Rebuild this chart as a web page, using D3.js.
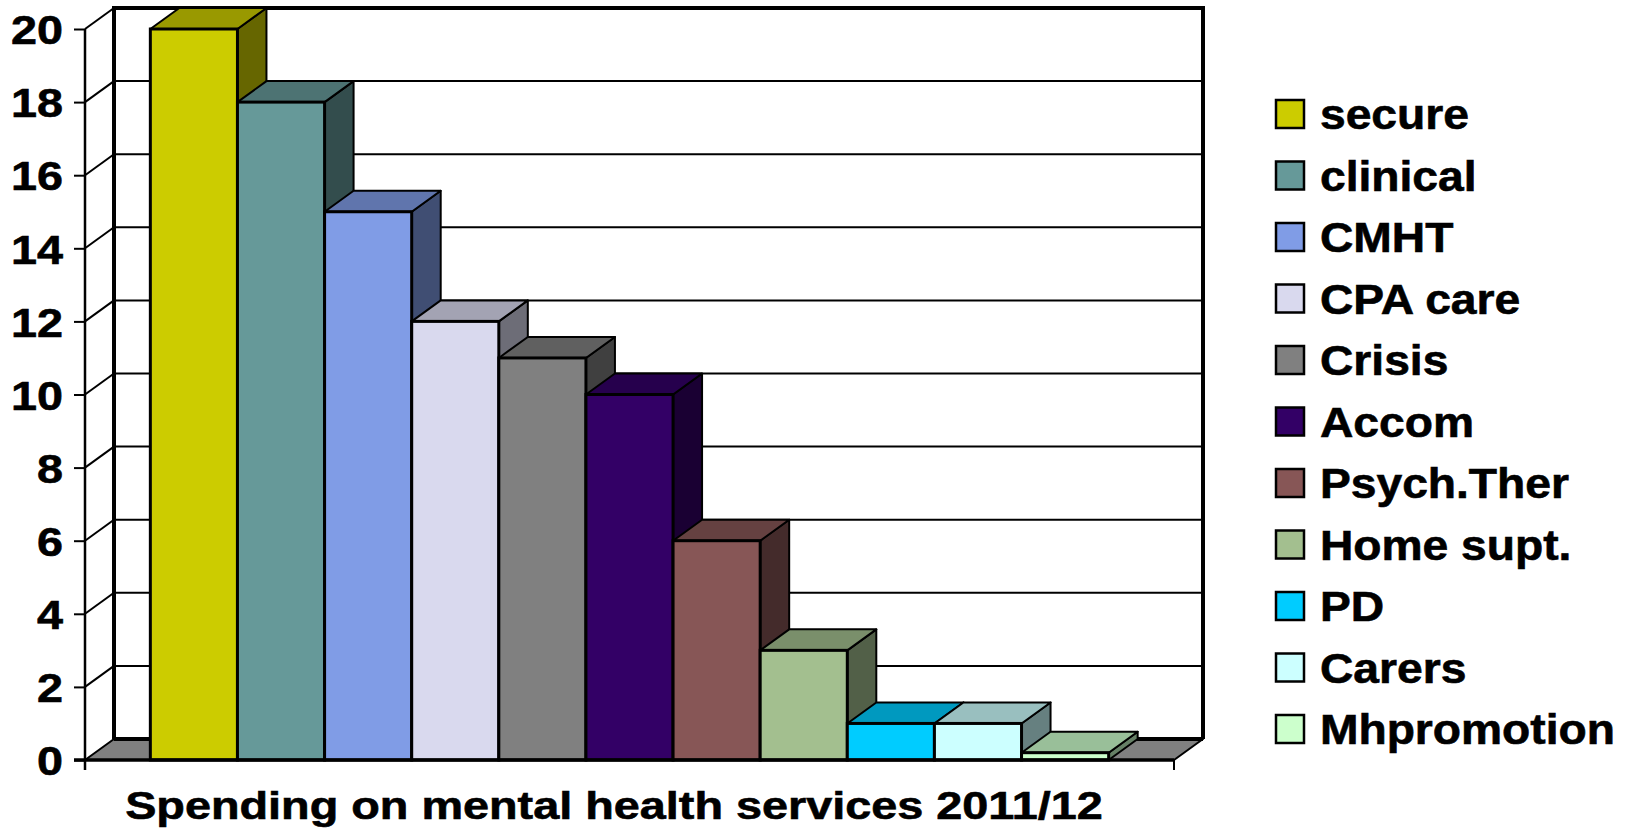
<!DOCTYPE html>
<html>
<head>
<meta charset="utf-8">
<script src="https://cdn.jsdelivr.net/npm/d3@7"></script>
<style>
html,body{margin:0;padding:0;background:#fff;}
svg{display:block;font-family:"Liberation Sans",Arial,sans-serif;font-weight:bold;}
</style>
</head>
<body>
<svg id="chart" width="1633" height="835"></svg>
<script>
const categories = ["secure","clinical","CMHT","CPA care","Crisis","Accom","Psych.Ther","Home supt.","PD","Carers","Mhpromotion"];
const values = [20, 18, 15, 12, 11, 10, 6, 3, 1, 1, 0.2];
const colors = ["#CCCC00","#669999","#809CE6","#D9D9EE","#808080","#330066","#875656","#A3BF8F","#00CCFF","#CCFFFF","#CCFFCC"];
const yTicks = [0,2,4,6,8,10,12,14,16,18,20];
const xTitle = "Spending on mental health services 2011/12";

const svg = d3.select("#chart");
const X0 = 85, X1 = 1174, Y0 = 760, Y1 = 29;
const DX = 29, DY = 21;
const SX = 1.14;

const y = d3.scaleLinear().domain([0, 20]).range([Y0, Y1]);
const x = d3.scaleBand().domain(categories).range([X0, X1]).paddingInner(0).paddingOuter(0.75);

function shade(c, k){ const r = d3.rgb(c); return d3.rgb(r.r*k, r.g*k, r.b*k).formatHex(); }
const poly = pts => "M" + pts.map(p => p.join(",")).join("L") + "Z";

// back wall
svg.append("rect").attr("x", X0+DX).attr("y", Y1-DY).attr("width", X1-X0).attr("height", Y0-Y1)
  .attr("fill", "#fff");
// gridlines on back wall
svg.append("g").selectAll("line").data(yTicks.filter(t => t > 0 && t < 20)).join("line")
  .attr("x1", X0+DX).attr("x2", X1+DX)
  .attr("y1", d => y(d)-DY).attr("y2", d => y(d)-DY)
  .attr("stroke", "#000").attr("stroke-width", 2);
// left wall diagonals
svg.append("g").selectAll("line").data(yTicks.filter(t => t > 0)).join("line")
  .attr("x1", X0).attr("y1", d => y(d))
  .attr("x2", X0+DX).attr("y2", d => y(d)-DY)
  .attr("stroke", "#000").attr("stroke-width", 2);
// floor
svg.append("path")
  .attr("d", poly([[X0,Y0],[X1,Y0],[X1+DX,Y0-DY],[X0+DX,Y0-DY]]))
  .attr("fill", "#808080").attr("stroke", "#000").attr("stroke-width", 2).attr("stroke-linejoin","round");
// back wall borders (thick)
svg.append("path")
  .attr("d", `M${X0+DX},${Y0-DY}L${X0+DX},${Y1-DY}L${X1+DX},${Y1-DY}L${X1+DX},${Y0-DY}`)
  .attr("fill", "none").attr("stroke", "#000").attr("stroke-width", 4).attr("stroke-linejoin","miter");
svg.append("line").attr("x1", X0+DX).attr("x2", X1+DX).attr("y1", Y0-DY).attr("y2", Y0-DY)
  .attr("stroke", "#000").attr("stroke-width", 4);

// bars
const bars = svg.append("g").selectAll("g").data(categories).join("g");
bars.each(function(c, i){
  const g = d3.select(this);
  const xa = x(c), xb = x(c) + x.bandwidth();
  const yt = y(values[i]);
  g.append("path").attr("d", poly([[xb,yt],[xb+DX,yt-DY],[xb+DX,Y0-DY],[xb,Y0]]))
    .attr("fill", shade(colors[i], 0.5)).attr("stroke", "#000").attr("stroke-width", 2).attr("stroke-linejoin","round");
  g.append("path").attr("d", poly([[xa,yt],[xb,yt],[xb+DX,yt-DY],[xa+DX,yt-DY]]))
    .attr("fill", shade(colors[i], 0.75)).attr("stroke", "#000").attr("stroke-width", 2).attr("stroke-linejoin","round");
  g.append("rect").attr("x", xa).attr("y", yt).attr("width", xb-xa).attr("height", Y0-yt)
    .attr("fill", colors[i]).attr("stroke", "#000").attr("stroke-width", 3);
});

// front y axis
const yAxis = d3.axisLeft(y).tickValues(yTicks).tickSize(11).tickPadding(11).tickSizeOuter(0);
const ga = svg.append("g").attr("transform", `translate(${X0},0)`).call(yAxis);
ga.select(".domain").remove();
ga.selectAll(".tick line").attr("stroke", "#000").attr("stroke-width", 2);
ga.selectAll(".tick text")
  .attr("fill", "#000").attr("stroke", "#000").attr("stroke-width", 0.6)
  .attr("font-size", 41).attr("font-weight", "bold")
  .attr("font-family", "'Liberation Sans', Arial, sans-serif")
  .attr("dy", "0.36em")
  .attr("x", null)
  .attr("transform", `translate(-22,0) scale(${SX},1)`);
svg.append("line").attr("x1", X0).attr("x2", X0).attr("y1", Y1).attr("y2", Y0+10)
  .attr("stroke", "#000").attr("stroke-width", 2.5);
// bottom axis
svg.append("line").attr("x1", X0-11).attr("x2", X1).attr("y1", Y0).attr("y2", Y0)
  .attr("stroke", "#000").attr("stroke-width", 3.5);
svg.append("line").attr("x1", X1).attr("x2", X1).attr("y1", Y0).attr("y2", Y0+10)
  .attr("stroke", "#000").attr("stroke-width", 2);

// x title
svg.append("text").attr("transform", `translate(614,819) scale(1.2,1)`)
  .attr("text-anchor", "middle").attr("font-size", 39).attr("fill", "#000")
  .attr("stroke", "#000").attr("stroke-width", 0.6).text(xTitle);

// legend
const LX = 1276, LY0 = 114, LS = 61.5;
const lg = svg.append("g").selectAll("g").data(categories).join("g")
  .attr("transform", (d, i) => `translate(${LX},${LY0 + i*LS})`);
lg.append("rect").attr("x", 0).attr("y", -14).attr("width", 28).attr("height", 28)
  .attr("fill", (d, i) => colors[i]).attr("stroke", "#000").attr("stroke-width", 2.5);
lg.append("text").attr("transform", `translate(44,15) scale(1.1,1)`)
  .attr("font-size", 42).attr("fill", "#000").attr("stroke", "#000").attr("stroke-width", 0.6).text(d => d);
</script>
</body>
</html>
